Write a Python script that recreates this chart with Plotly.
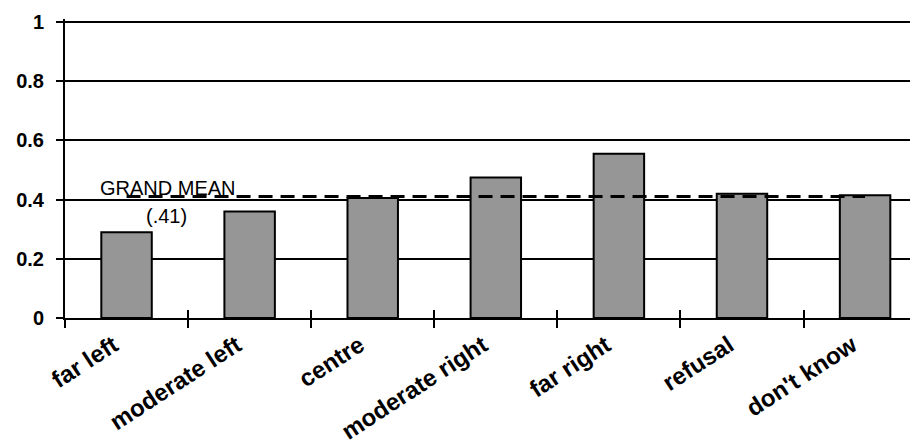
import plotly.graph_objects as go

categories = ["far left", "moderate left", "centre", "moderate right", "far right", "refusal", "don't know"]
values = [0.29, 0.36, 0.405, 0.475, 0.555, 0.42, 0.415]
grand_mean = 0.41
y_ticks = [0, 0.2, 0.4, 0.6, 0.8, 1]
y_tick_labels = ["0", "0.2", "0.4", "0.6", "0.8", "1"]

FONT = "Liberation Sans, Arial, sans-serif"

fig = go.Figure()
fig.add_trace(go.Bar(
    x=categories, y=values, width=0.41,
    marker=dict(color="#969696", line=dict(color="black", width=2)),
    showlegend=False, hoverinfo="skip",
))
fig.add_trace(go.Scatter(
    x=[categories[0], categories[-1]], y=[grand_mean, grand_mean],
    mode="lines", line=dict(color="black", width=3, dash="14px,8px"),
    showlegend=False, hoverinfo="skip",
))
# invisible trace to drive the inner half of the category tick marks
fig.add_trace(go.Scatter(
    x=categories, y=values, xaxis="x2", mode="markers",
    marker=dict(opacity=0), showlegend=False, hoverinfo="skip",
))

xrange = [-0.5, 6.43]
# the page body adds an 8px offset, so the figure is 8px smaller and margins compensate
fig.update_layout(
    width=910, height=438,
    margin=dict(l=57, r=0, t=11, b=128),
    paper_bgcolor="white", plot_bgcolor="white",
    font=dict(family=FONT, color="black"),
    xaxis=dict(
        type="category", range=xrange, showline=True, linecolor="black", linewidth=2,
        showgrid=False, ticks="outside", ticklen=8, tickwidth=2, tickcolor="black",
        tickson="boundaries", tickangle=-33, automargin=False,
        ticklabelstandoff=2, ticklabelshift=-13,
        tickfont=dict(family=FONT, size=24, weight="bold", color="black"),
    ),
    xaxis2=dict(
        type="category", range=xrange, overlaying="x", automargin=False,
        showline=False, showgrid=False, ticks="inside", ticklen=8, tickwidth=2,
        tickcolor="black", tickson="boundaries", showticklabels=False,
        categoryorder="array", categoryarray=categories,
    ),
    yaxis=dict(
        range=[0, 1.01], tickvals=y_ticks, ticktext=y_tick_labels,
        showline=True, linecolor="black", linewidth=2, automargin=False,
        showgrid=True, gridcolor="black", gridwidth=2, zeroline=False,
        ticks="outside", ticklen=7, tickwidth=2, tickcolor="black",
        ticklabelstandoff=8,
        tickfont=dict(family=FONT, size=20, weight="bold", color="black"),
    ),
    shapes=[
        dict(type="line", xref="paper", yref="y", x0=0, x1=1,
             y0=y_ticks[-1], y1=y_ticks[-1], layer="below",
             line=dict(color="#808080", width=2)),
    ],
    annotations=[
        dict(x=0, y=grand_mean, xref="x", yref="y", text="GRAND MEAN",
             showarrow=False, xanchor="left", yanchor="bottom", xshift=-29, yshift=-4,
             font=dict(family=FONT, size=20, color="black")),
        dict(x=0, y=grand_mean, xref="x", yref="y", text="(.41)",
             showarrow=False, xanchor="center", yanchor="top", xshift=40, yshift=-6,
             font=dict(family=FONT, size=20, color="black")),
    ],
)

fig.write_html("out.html")
